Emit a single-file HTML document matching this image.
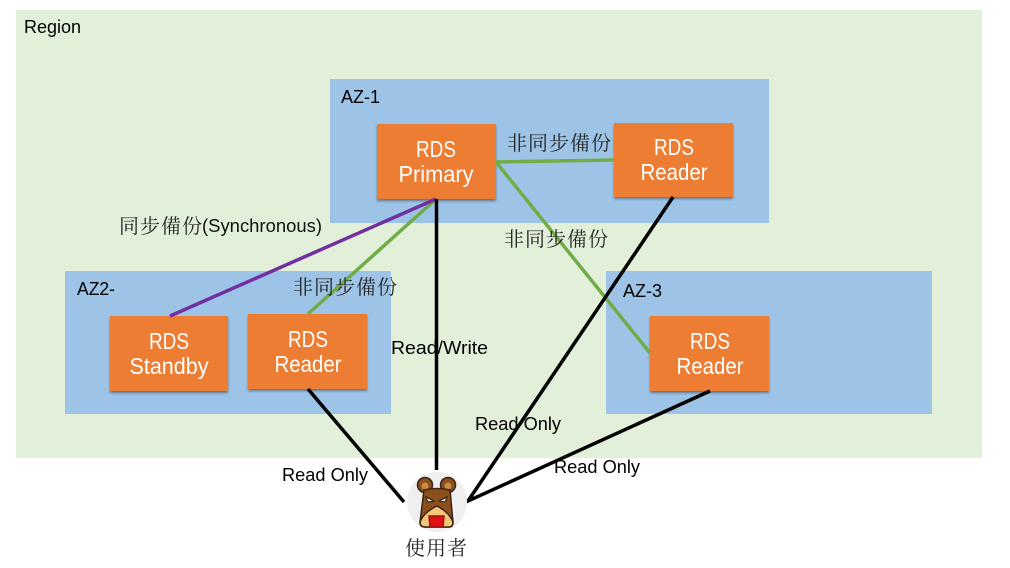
<!DOCTYPE html>
<html><head><meta charset="utf-8"><style>
html,body{margin:0;padding:0;background:#fff;width:1010px;height:568px;overflow:hidden}
svg{display:block}
text{font-family:"Liberation Sans","Noto Sans CJK TC",sans-serif}
.l{font-size:18px;fill:#000}
.c{font-size:20px;fill:#262626;font-family:"Noto Serif CJK SC","Noto Sans CJK TC",serif}
.b{font-size:23px;fill:#fff;text-anchor:middle}
.box{fill:#ed7d31;filter:url(#s)}
</style></head><body>
<svg width="1010" height="568" viewBox="0 0 1010 568" xmlns="http://www.w3.org/2000/svg">
<defs><filter id="s" x="-10%" y="-10%" width="120%" height="125%"><feDropShadow dx="0" dy="2" stdDeviation="1.2" flood-color="#000" flood-opacity=".4"/></filter></defs>
<rect width="1010" height="568" fill="#fff"/>
<rect x="16" y="10" width="966" height="448" fill="#e2efd9"/>
<rect x="330" y="79" width="439" height="144" fill="#9dc3e6"/>
<rect x="65" y="271" width="326" height="143" fill="#9dc3e6"/>
<rect x="606" y="271" width="326" height="143" fill="#9dc3e6"/>
<text class="l" x="24" y="33" textLength="57" lengthAdjust="spacingAndGlyphs">Region</text>
<text class="l" x="341" y="103" textLength="39" lengthAdjust="spacingAndGlyphs">AZ-1</text>
<text class="l" x="77" y="295" textLength="38" lengthAdjust="spacingAndGlyphs">AZ2-</text>
<text class="l" x="623" y="297" textLength="39" lengthAdjust="spacingAndGlyphs">AZ-3</text>
<rect class="box" x="377" y="124" width="119" height="75"/>
<rect class="box" x="614" y="123" width="119" height="74"/>
<rect class="box" x="110" y="316" width="118" height="75"/>
<rect class="box" x="248" y="314" width="119" height="75"/>
<rect class="box" x="650" y="316" width="119" height="75"/>
<text class="b" x="436" y="157" textLength="40" lengthAdjust="spacingAndGlyphs">RDS</text>
<text class="b" x="436" y="182" textLength="75" lengthAdjust="spacingAndGlyphs">Primary</text>
<text class="b" x="674" y="155" textLength="40" lengthAdjust="spacingAndGlyphs">RDS</text>
<text class="b" x="674" y="180" textLength="67" lengthAdjust="spacingAndGlyphs">Reader</text>
<text class="b" x="169" y="349" textLength="40" lengthAdjust="spacingAndGlyphs">RDS</text>
<text class="b" x="169" y="374" textLength="79" lengthAdjust="spacingAndGlyphs">Standby</text>
<text class="b" x="308" y="347" textLength="40" lengthAdjust="spacingAndGlyphs">RDS</text>
<text class="b" x="308" y="372" textLength="67" lengthAdjust="spacingAndGlyphs">Reader</text>
<text class="b" x="710" y="349" textLength="40" lengthAdjust="spacingAndGlyphs">RDS</text>
<text class="b" x="710" y="374" textLength="67" lengthAdjust="spacingAndGlyphs">Reader</text>
<g fill="none" stroke-width="3.5">
<path d="M496 162L614 160M496 162L650 353M308 314L436 199" stroke="#70ad47"/>
<path d="M170 316L436 199" stroke="#7030a0"/>
<path d="M436.5 199V470M673 197L468 501L710 391M308 389L404 502" stroke="#000"/>
</g>
<text class="c" x="507" y="150" textLength="104">非同步備份</text>
<text class="c" x="504" y="246" textLength="104">非同步備份</text>
<text class="c" x="293" y="294" textLength="104">非同步備份</text>
<text class="c" x="119" y="233" textLength="83">同步備份</text>
<text class="l" x="202" y="232" textLength="120" lengthAdjust="spacingAndGlyphs" style="fill:#111">(Synchronous)</text>
<text class="l" x="391" y="354" textLength="97" lengthAdjust="spacingAndGlyphs">Read/Write</text>
<text class="l" x="475" y="430" textLength="86" lengthAdjust="spacingAndGlyphs">Read Only</text>
<text class="l" x="554" y="473" textLength="86" lengthAdjust="spacingAndGlyphs">Read Only</text>
<text class="l" x="282" y="481" textLength="86" lengthAdjust="spacingAndGlyphs">Read Only</text>
<circle cx="437" cy="502" r="30" fill="#efefef"/>
<g stroke="#3b2413" stroke-width="1.5">
<circle cx="425" cy="485" r="7.5" fill="#8a4f1d"/>
<circle cx="448" cy="485" r="7.5" fill="#8a4f1d"/>
<circle cx="425" cy="486" r="3.5" fill="#c98a45" stroke="none"/>
<circle cx="448" cy="486" r="3.5" fill="#c98a45" stroke="none"/>
<path d="M424 490Q437 487 450 490L453 522Q453 527 449 527H425Q420 527 420 522Z" fill="#8a4f1d"/>
<path d="M420 522Q424 512 437 506Q449 512 453 522Q453 527 449 527H425Q420 527 420 522Z" fill="#f2c678"/>
<path d="M429 516H444L443 527H430Z" fill="#e01010" stroke="#a01010"/>
<path d="M426 497L434 501L428 502ZM447 497L439 501L445 502Z" fill="#eee" stroke="#2a180c" stroke-width="1"/>
</g>
<text class="c" x="405" y="555" textLength="62">使用者</text>
</svg>
</body></html>
